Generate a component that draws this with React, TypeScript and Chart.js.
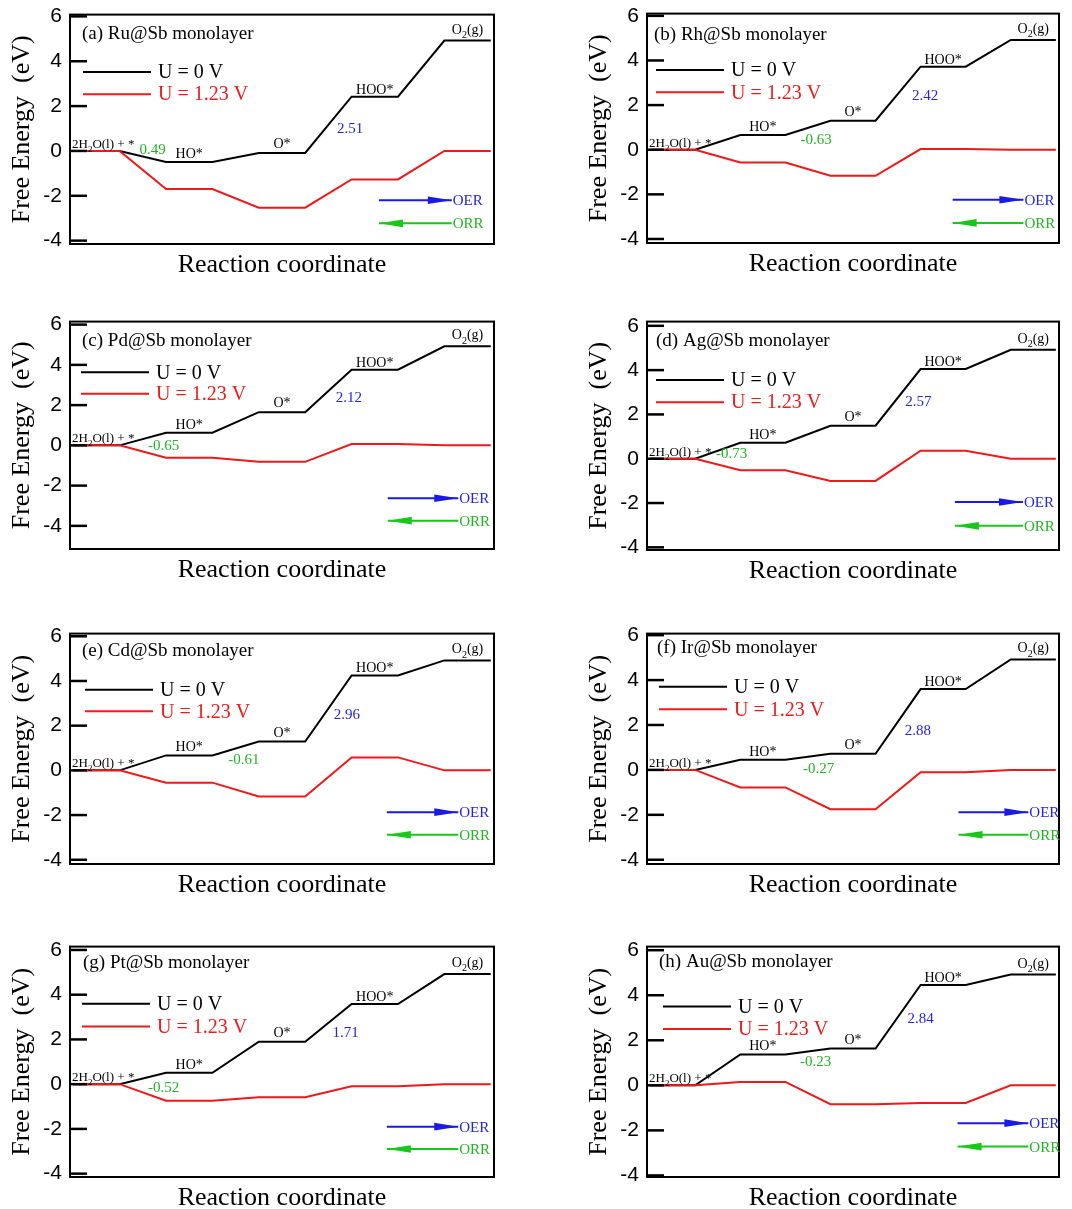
import React, { useEffect, useRef } from "react";
import { Chart, registerables } from "chart.js";

Chart.register(...registerables);

// ---------------- data ----------------
const PANEL_TITLES = [
  "(a) Ru@Sb monolayer",
  "(b) Rh@Sb monolayer",
  "(c) Pd@Sb monolayer",
  "(d) Ag@Sb monolayer",
  "(e) Cd@Sb monolayer",
  "(f) Ir@Sb monolayer",
  "(g) Pt@Sb monolayer",
  "(h) Au@Sb monolayer",
];
const LEGEND_LABELS = ["U = 0 V", "U = 1.23 V"];
const X_TITLE = "Reaction coordinate";
const Y_TITLE = "Free Energy  (eV)";
type Part = { t: string; sub?: boolean };
const STATE_LABELS: Part[][] = [
  [{ t: "2H" }, { t: "2", sub: true }, { t: "O(l) + *" }],
  [{ t: "HO*" }],
  [{ t: "O*" }],
  [{ t: "HOO*" }],
  [{ t: "O" }, { t: "2", sub: true }, { t: "(g)" }],
];
const REACTION_X = [0, 1, 2, 3, 4, 5, 6, 7, 8, 9];
const Y_TICKS = [-4, -2, 0, 2, 4, 6];

const G0_RU = [0, -0.49, -0.09, 2.42, 4.92];
const G123_RU = [0, -1.7, -2.53, -1.27, 0];
const G0_RH = [0, 0.66, 1.3, 3.72, 4.92];
const G123_RH = [0, -0.57, -1.17, 0.03, 0];
const G0_PD = [0, 0.63, 1.65, 3.76, 4.92];
const G123_PD = [0, -0.61, -0.82, 0.07, 0];
const G0_AG = [0, 0.72, 1.49, 4.05, 4.92];
const G123_AG = [0, -0.52, -1.0, 0.36, 0];
const G0_CD = [0, 0.67, 1.29, 4.25, 4.92];
const G123_CD = [0, -0.55, -1.17, 0.58, 0];
const G0_IR = [0, 0.45, 0.72, 3.6, 4.92];
const G123_IR = [0, -0.78, -1.75, -0.1, 0];
const G0_PT = [0, 0.51, 1.9, 3.58, 4.92];
const G123_PT = [0, -0.74, -0.58, -0.09, 0];
const G0_AU = [0, 1.37, 1.63, 4.46, 4.92];
const G123_AU = [0, 0.15, -0.84, -0.78, 0];

const G_U0 = [G0_RU, G0_RH, G0_PD, G0_AG, G0_CD, G0_IR, G0_PT, G0_AU];
const G_U123 = [G123_RU, G123_RH, G123_PD, G123_AG, G123_CD, G123_IR, G123_PT, G123_AU];

const GREEN_STEP = ["0.49", "-0.63", "-0.65", "-0.73", "-0.61", "-0.27", "-0.52", "-0.23"];
const BLUE_STEP = ["2.51", "2.42", "2.12", "2.57", "2.96", "2.88", "1.71", "2.84"];
const ARROW_LABELS = ["OER", "ORR"];

// ---------------- layout / style ----------------
const SERIF = '"Liberation Serif", "Times New Roman", serif';
const SANS = '"Liberation Sans", Arial, sans-serif';
const RED = "#f01818";
const BLUE = "#2424e0";
const GREEN = "#22b422";
const ARROW_BLUE = "#1a1ae8";
const ARROW_GREEN = "#18c818";

const COL_W = 536;
const PAD_TOP = 20;
const X_AXIS_H = 46;
// chart areas in page pixels: left, top, right, bottom
const AREAS = [
  [70, 14, 494, 244],
  [647, 13, 1059, 243],
  [70, 321, 494, 549],
  [647, 321, 1059, 550],
  [70, 633, 494, 864],
  [647, 633, 1059, 864],
  [70, 946, 494, 1177],
  [647, 946, 1059, 1177],
];
const Y_RANGE = [
  [-4.15, 6.08],
  [-4.18, 6.1],
  [-5.15, 6.15],
  [-4.12, 6.19],
  [-4.19, 6.12],
  [-4.19, 6.07],
  [-4.15, 6.15],
  [-4.07, 6.16],
];
const X_RANGE = [-0.07, 9.07];
const TITLE_OFF = [
  [12, 19],
  [7, 21],
  [12, 19],
  [9, 19],
  [12, 17],
  [10, 14],
  [13, 16],
  [12, 15],
];
const LEGEND_X = [13, 9, 11, 9, 15, 12, 12, 16];
const LEGEND_Y = [
  [3.52, 2.53],
  [3.57, 2.57],
  [3.63, 2.56],
  [3.55, 2.55],
  [3.61, 2.64],
  [3.7, 2.7],
  [3.6, 2.58],
  [3.5, 2.5],
];
const GREEN_POS = [
  [1.71, 0.05],
  [3.68, 0.44],
  [1.95, -0.04],
  [1.81, 0.2],
  [3.68, 0.46],
  [3.74, 0.04],
  [1.95, -0.16],
  [3.67, 1.05],
];
const BLUE_POS = [
  [5.97, 0.98],
  [6.1, 2.39],
  [5.94, 2.37],
  [5.95, 2.55],
  [5.9, 2.47],
  [5.94, 1.73],
  [5.87, 2.28],
  [6.0, 2.94],
];
const ARROW_X = [
  [6.59, 8.16],
  [6.71, 8.28],
  [6.78, 8.3],
  [6.76, 8.27],
  [6.76, 8.3],
  [6.84, 8.39],
  [6.76, 8.3],
  [6.82, 8.39],
];
const ARROW_Y = [
  [-2.2, -3.23],
  [-2.24, -3.28],
  [-2.63, -3.74],
  [-1.95, -3.03],
  [-1.87, -2.88],
  [-1.88, -2.89],
  [-1.9, -2.9],
  [-1.68, -2.72],
];
const STATE_DY = [3, 4, 5, 3, 7];

function levelPoints(levels: number[]) {
  const pts: { x: number; y: number }[] = [];
  levels.forEach((g, k) => {
    pts.push({ x: REACTION_X[2 * k], y: g });
    pts.push({ x: REACTION_X[2 * k + 1], y: g });
  });
  return pts;
}

function drawRich(
  ctx: CanvasRenderingContext2D,
  parts: Part[],
  x: number,
  baseline: number,
  size: number,
  align: "left" | "center"
) {
  const subSize = Math.round(size * 0.68);
  const widths = parts.map((p) => {
    ctx.font = `${p.sub ? subSize : size}px ${SERIF}`;
    return ctx.measureText(p.t).width;
  });
  const total = widths.reduce((a, b) => a + b, 0);
  let cx = align === "center" ? x - total / 2 : x;
  ctx.textAlign = "left";
  ctx.textBaseline = "alphabetic";
  parts.forEach((p, i) => {
    ctx.font = `${p.sub ? subSize : size}px ${SERIF}`;
    ctx.fillText(p.t, cx, baseline + (p.sub ? size * 0.3 : 0));
    cx += widths[i];
  });
}

function Panel({ idx }: { idx: number }) {
  const ref = useRef<HTMLCanvasElement | null>(null);
  const col = idx % 2;
  const colX = col * COL_W;
  const [l, t, r, b] = AREAS[idx];
  const height = PAD_TOP + (b - t) + X_AXIS_H;

  useEffect(() => {
    if (!ref.current) return;
    const overlay = {
      id: "overlay" + idx,
      afterDatasetsDraw(chart: any) {
        const { ctx, chartArea: ca } = chart;
        const xs = chart.scales.x;
        const ys = chart.scales.y;
        ctx.save();
        // frame
        ctx.strokeStyle = "#000";
        ctx.lineWidth = 2;
        ctx.strokeRect(ca.left, ca.top, ca.right - ca.left, ca.bottom - ca.top);
        // inward ticks
        ctx.lineWidth = 2.5;
        for (const v of Y_TICKS) {
          const py = ys.getPixelForValue(v);
          ctx.beginPath();
          ctx.moveTo(ca.left, py);
          ctx.lineTo(ca.left + 17, py);
          ctx.stroke();
        }
        // panel title
        ctx.fillStyle = "#000";
        ctx.font = `19px ${SERIF}`;
        ctx.textAlign = "left";
        ctx.textBaseline = "middle";
        ctx.fillText(PANEL_TITLES[idx], ca.left + TITLE_OFF[idx][0], ca.top + TITLE_OFF[idx][1]);
        // legend
        const legColors = ["#000", RED];
        LEGEND_LABELS.forEach((lab, i) => {
          const py = ys.getPixelForValue(LEGEND_Y[idx][i]);
          const x0 = ca.left + LEGEND_X[idx];
          ctx.strokeStyle = legColors[i];
          ctx.lineWidth = 2;
          ctx.beginPath();
          ctx.moveTo(x0, py);
          ctx.lineTo(x0 + 68, py);
          ctx.stroke();
          ctx.fillStyle = legColors[i];
          ctx.font = `20px ${SERIF}`;
          ctx.textAlign = "left";
          ctx.textBaseline = "middle";
          ctx.fillText(lab, x0 + 75, py + 1);
        });
        // state labels
        ctx.fillStyle = "#000";
        STATE_LABELS.forEach((parts, k) => {
          const g = G_U0[idx][k];
          const py = ys.getPixelForValue(g) - STATE_DY[k];
          if (k === 0) {
            drawRich(ctx, parts, ca.left + 2, py, 13, "left");
          } else {
            const xc = xs.getPixelForValue((REACTION_X[2 * k] + REACTION_X[2 * k + 1]) / 2);
            drawRich(ctx, parts, xc, py, 14, "center");
          }
        });
        // step values
        ctx.font = `15px ${SERIF}`;
        ctx.textAlign = "center";
        ctx.textBaseline = "middle";
        ctx.fillStyle = GREEN;
        ctx.fillText(
          GREEN_STEP[idx],
          xs.getPixelForValue(GREEN_POS[idx][0]),
          ys.getPixelForValue(GREEN_POS[idx][1])
        );
        ctx.fillStyle = BLUE;
        ctx.fillText(
          BLUE_STEP[idx],
          xs.getPixelForValue(BLUE_POS[idx][0]),
          ys.getPixelForValue(BLUE_POS[idx][1])
        );
        // OER / ORR arrows
        const ax0 = xs.getPixelForValue(ARROW_X[idx][0]);
        const ax1 = xs.getPixelForValue(ARROW_X[idx][1]);
        const arrowCols = [ARROW_BLUE, ARROW_GREEN];
        const textCols = [BLUE, GREEN];
        ARROW_LABELS.forEach((lab, i) => {
          const py = ys.getPixelForValue(ARROW_Y[idx][i]);
          ctx.strokeStyle = arrowCols[i];
          ctx.fillStyle = arrowCols[i];
          ctx.lineWidth = 2;
          ctx.beginPath();
          ctx.moveTo(ax0, py);
          ctx.lineTo(ax1, py);
          ctx.stroke();
          ctx.beginPath();
          if (i === 0) {
            ctx.moveTo(ax1, py);
            ctx.lineTo(ax1 - 24, py - 3.8);
            ctx.lineTo(ax1 - 24, py + 3.8);
          } else {
            ctx.moveTo(ax0, py);
            ctx.lineTo(ax0 + 24, py - 3.8);
            ctx.lineTo(ax0 + 24, py + 3.8);
          }
          ctx.closePath();
          ctx.fill();
          ctx.fillStyle = textCols[i];
          ctx.font = `15px ${SERIF}`;
          ctx.textAlign = "left";
          ctx.textBaseline = "middle";
          ctx.fillText(lab, ax1 + 1, py + 1);
        });
        ctx.restore();
      },
    };

    const chart = new Chart(ref.current, {
      type: "line",
      data: {
        datasets: [
          {
            label: LEGEND_LABELS[1],
            data: levelPoints(G_U123[idx]),
            borderColor: RED,
            borderWidth: 2,
            pointRadius: 0,
            tension: 0,
            fill: false,
            order: 0,
          },
          {
            label: LEGEND_LABELS[0],
            data: levelPoints(G_U0[idx]),
            borderColor: "#000",
            borderWidth: 2,
            pointRadius: 0,
            tension: 0,
            fill: false,
            order: 1,
          },
        ],
      },
      options: {
        animation: false,
        responsive: false,
        maintainAspectRatio: false,
        events: [],
        layout: {
          padding: { left: 0, top: PAD_TOP, right: colX + COL_W - r, bottom: 0 },
        },
        plugins: {
          legend: { display: false },
          tooltip: { enabled: false },
          title: { display: false },
        },
        scales: {
          x: {
            type: "linear",
            min: X_RANGE[0],
            max: X_RANGE[1],
            grid: { display: false, drawTicks: false },
            border: { display: false },
            ticks: { display: false },
            title: {
              display: true,
              text: X_TITLE,
              color: "#000",
              font: { family: SERIF, size: 26 },
              padding: { top: 0, bottom: 9 },
            },
            afterFit: (s: any) => {
              s.height = X_AXIS_H;
            },
          },
          y: {
            type: "linear",
            min: Y_RANGE[idx][0],
            max: Y_RANGE[idx][1],
            grid: { display: false, drawTicks: false },
            border: { display: false },
            afterBuildTicks: (s: any) => {
              s.ticks = Y_TICKS.map((v) => ({ value: v }));
            },
            ticks: {
              color: "#000",
              font: { family: SANS, size: 21 },
              padding: 8,
              callback: (v: any) => String(v),
            },
            title: {
              display: true,
              text: Y_TITLE,
              color: "#000",
              font: { family: SERIF, size: 26 },
              padding: { top: col === 0 ? 7 : 48, bottom: 0 },
            },
            afterFit: (s: any) => {
              s.width = l - colX;
            },
          },
        },
      },
      plugins: [overlay],
    } as any);
    return () => chart.destroy();
  }, [idx]);

  return (
    <canvas
      ref={ref}
      width={COL_W}
      height={height}
      style={{
        position: "absolute",
        left: colX,
        top: t - PAD_TOP,
        width: COL_W,
        height: height,
      }}
    />
  );
}

export default function App() {
  return (
    <div
      style={{
        position: "absolute",
        left: 0,
        top: 0,
        width: 1072,
        height: 1209,
        background: "#fff",
        overflow: "hidden",
      }}
    >
      {PANEL_TITLES.map((_, i) => (
        <Panel key={i} idx={i} />
      ))}
    </div>
  );
}
